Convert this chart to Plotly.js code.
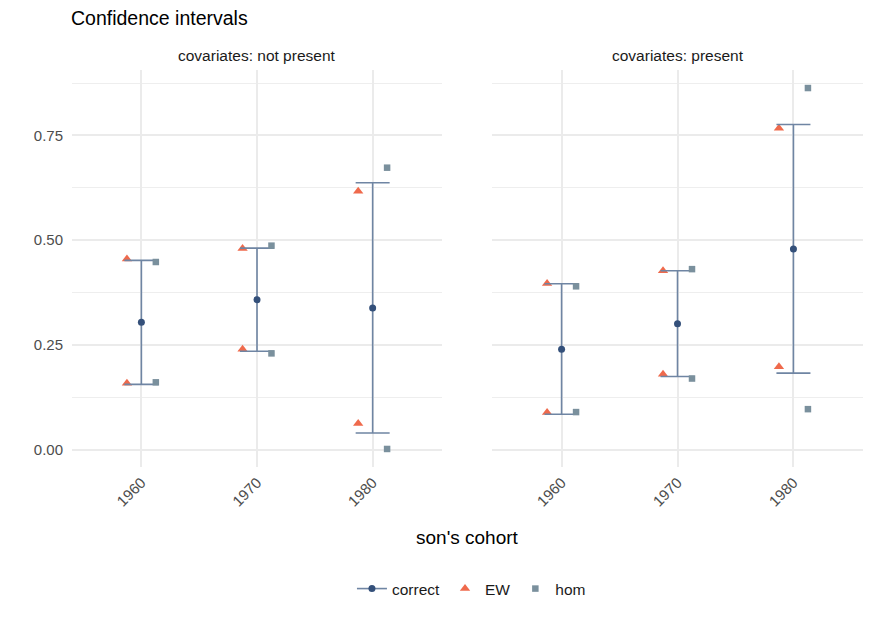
<!DOCTYPE html>
<html>
<head>
<meta charset="utf-8">
<script src="https://cdn.plot.ly/plotly-3.0.1.min.js"></script>
<style>
  body { margin: 0; background: #fff; }
  #chart { width: 872px; height: 623px; }
</style>
</head>
<body>
<div id="chart"></div>
<script>
'use strict';

// son's cohort, shared by both facets
const cohorts = ['1960', '1970', '1980'];
const panels = ['covariates: not present', 'covariates: present'];

// covariates: not present
const correctMidA = [0.304, 0.358, 0.338];
const correctLowA = [0.156, 0.235, 0.040];
const correctHighA = [0.452, 0.481, 0.637];
const ewA = [[0.159, 0.455], [0.240, 0.480], [0.063, 0.617]];
const homA = [[0.161, 0.448], [0.230, 0.487], [0.002, 0.673]];

// covariates: present
const correctMidB = [0.240, 0.301, 0.479];
const correctLowB = [0.085, 0.175, 0.183];
const correctHighB = [0.396, 0.427, 0.776];
const ewB = [[0.089, 0.397], [0.180, 0.427], [0.198, 0.767]];
const homB = [[0.090, 0.390], [0.170, 0.431], [0.097, 0.863]];

const colCorrect = '#34507a';
const colBar = '#6f85a3';
const colEW = '#ef6a4c';
const colHom = '#7a909d';
const font = 'Liberation Sans, Arial, sans-serif';

function bounds(pairs) {
  // each cohort has a lower and an upper bound; draw both as points
  let xs = [];
  let ys = [];
  pairs.forEach(function (p, i) {
    xs.push(cohorts[i], cohorts[i]);
    ys.push(p[0], p[1]);
  });
  return { xs, ys };
}

function panelTraces(mid, low, high, ew, hom, xa, ya) {
  let e = bounds(ew);
  let h = bounds(hom);
  return [
    {
      type: 'scatter', mode: 'markers', x: e.xs, y: e.ys, xaxis: xa, yaxis: ya,
      offsetgroup: 'EW', name: 'EW', legendgroup: 'EW', showlegend: xa === 'x', legendrank: 2,
      marker: { symbol: 'triangle-up', size: 9, color: colEW }
    },
    {
      type: 'scatter', mode: 'markers', x: cohorts, y: mid, xaxis: xa, yaxis: ya,
      offsetgroup: 'correct', name: 'correct', legendgroup: 'correct', showlegend: false,
      marker: { symbol: 'circle', size: 7, color: colCorrect },
      error_y: {
        type: 'data', symmetric: false,
        array: high.map((v, i) => v - mid[i]),
        arrayminus: low.map((v, i) => mid[i] - v),
        color: colBar, thickness: 1.6, width: 17
      }
    },
    {
      type: 'scatter', mode: 'markers', x: h.xs, y: h.ys, xaxis: xa, yaxis: ya,
      offsetgroup: 'hom', name: 'hom', legendgroup: 'hom', showlegend: xa === 'x', legendrank: 3,
      marker: { symbol: 'square', size: 6.5, color: colHom }
    }
  ];
}

let traces = []
  .concat(panelTraces(correctMidA, correctLowA, correctHighA, ewA, homA, 'x', 'y'))
  .concat(panelTraces(correctMidB, correctLowB, correctHighB, ewB, homB, 'x2', 'y2'));

// legend-only entry: the pointrange key (line with a dot)
traces.push({
  type: 'scatter', mode: 'lines+markers', x: [null], y: [null],
  name: 'correct', legendgroup: 'correct', legendrank: 1,
  line: { color: colBar, width: 1.6 },
  marker: { symbol: 'circle', size: 7, color: colCorrect }
});

const gridCol = '#ebebeb';
function xAxis(domain, anchor) {
  return {
    domain: domain, anchor: anchor, type: 'category', categoryorder: 'array', categoryarray: cohorts,
    range: [-0.6, 2.6], showgrid: true, gridcolor: gridCol, gridwidth: 2,
    zeroline: false, showline: false, ticks: '', tickangle: -45, ticklabelstandoff: 3,
    tickfont: { family: font, size: 15, color: '#4d4d4d' }
  };
}
function yAxis(anchor, labels) {
  return {
    anchor: anchor, range: [-0.041, 0.906], tickvals: [0, 0.25, 0.5, 0.75], tickformat: '.2f',
    showticklabels: labels, showgrid: true, gridcolor: gridCol, gridwidth: 2,
    minor: { tick0: 0.125, dtick: 0.25, showgrid: true, gridcolor: '#eeeeee', gridwidth: 1 },
    zeroline: false, showline: false, ticks: '', ticklabelstandoff: 8,
    tickfont: { family: font, size: 15, color: '#4d4d4d' }
  };
}

let layout = {
  width: 872, height: 623,
  margin: { l: 72, r: 9, t: 70, b: 156 },
  paper_bgcolor: '#fff', plot_bgcolor: '#fff',
  font: { family: font, color: '#1a1a1a' },
  title: {
    text: 'Confidence intervals', xref: 'container', x: 71 / 872, xanchor: 'left',
    yref: 'container', y: 1 - 18 / 623, yanchor: 'middle',
    font: { family: font, size: 19.5, color: '#000' }
  },
  scattermode: 'group', scattergap: 0.625,
  xaxis: xAxis([0, 0.4678], 'y'),
  xaxis2: xAxis([0.531, 1], 'y2'),
  yaxis: yAxis('x', true),
  yaxis2: yAxis('x2', false),
  showlegend: true,
  legend: {
    orientation: 'h', xref: 'paper', x: 0.505, xanchor: 'center',
    yref: 'container', y: 1 - 589 / 623, yanchor: 'middle',
    font: { family: font, size: 15.5, color: '#1a1a1a' }, itemwidth: 30
  },
  annotations: [
    { text: panels[0], xref: 'paper', x: 0.2339, xanchor: 'center', yref: 'paper', y: 1, yanchor: 'bottom', yshift: 4,
      showarrow: false, font: { family: font, size: 15.5, color: '#1a1a1a' } },
    { text: panels[1], xref: 'paper', x: 0.7655, xanchor: 'center', yref: 'paper', y: 1, yanchor: 'bottom', yshift: 4,
      showarrow: false, font: { family: font, size: 15.5, color: '#1a1a1a' } },
    { text: "son's cohort", xref: 'paper', x: 0.5, xanchor: 'center', yref: 'paper', y: 0, yanchor: 'middle', yshift: -70,
      showarrow: false, font: { family: font, size: 19, color: '#000' } }
  ]
};

Plotly.newPlot('chart', traces, layout, { displayModeBar: false, staticPlot: true });
</script>
</body>
</html>
